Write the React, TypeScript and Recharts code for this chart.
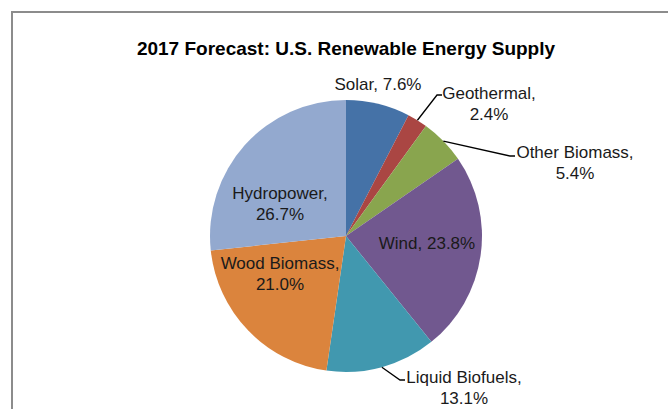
import { PieChart, Pie, Cell } from 'recharts';

const sources = ['Solar', 'Geothermal', 'Other Biomass', 'Wind', 'Liquid Biofuels', 'Wood Biomass', 'Hydropower'];
const shares = [7.6, 2.4, 5.4, 23.8, 13.1, 21.0, 26.7];
const colors = ['#4572A7', '#AA4643', '#89A54E', '#71588F', '#4198AF', '#DB843D', '#93A9CF'];

const chartData = sources.map((name, i) => ({ name, value: shares[i] }));

// where each data label sits, relative to the pie centre
type LabelSpot = { tx: number; ty: number; twoLines: boolean; bend?: [number, number]; end?: [number, number] };
const labelSpots: Record<string, LabelSpot> = {
  Solar: { tx: 32, ty: -152, twoLines: false },
  Geothermal: { tx: 143, ty: -143, twoLines: true, bend: [91, -141], end: [96, -141] },
  'Other Biomass': { tx: 229, ty: -84, twoLines: true, bend: [164, -80], end: [169, -80] },
  Wind: { tx: 81, ty: 7, twoLines: false },
  'Liquid Biofuels': { tx: 118, ty: 141, twoLines: true, bend: [54, 144], end: [59, 144] },
  'Wood Biomass': { tx: -66, ty: 27, twoLines: true },
  Hydropower: { tx: -66, ty: -43, twoLines: true },
};

const RADIAN = Math.PI / 180;
const FONT = '"Liberation Sans", Arial, sans-serif';

function renderLabel(props: any) {
  const { cx, cy, midAngle, outerRadius, name, value } = props;
  const spot = labelSpots[name];
  if (!spot) return null;
  const pct = `${value.toFixed(1)}%`;
  const x = cx + spot.tx;
  const y = cy + spot.ty;
  let line = null;
  if (spot.bend && spot.end) {
    const sx = cx + outerRadius * Math.cos(-midAngle * RADIAN);
    const sy = cy + outerRadius * Math.sin(-midAngle * RADIAN);
    line = (
      <polyline
        points={`${sx},${sy} ${cx + spot.bend[0]},${cy + spot.bend[1]} ${cx + spot.end[0]},${cy + spot.end[1]}`}
        fill="none"
        stroke="#000"
        strokeWidth={1.3}
      />
    );
  }
  return (
    <g>
      {line}
      {spot.twoLines ? (
        <text x={x} y={y} textAnchor="middle" dominantBaseline="central" fontFamily={FONT} fontSize={17} fill="#1a1a1a">
          <tspan x={x} y={y}>{name},</tspan>
          <tspan x={x} y={y + 21}>{pct}</tspan>
        </text>
      ) : (
        <text x={x} y={y} textAnchor="middle" dominantBaseline="central" fontFamily={FONT} fontSize={17} fill="#1a1a1a">
          {`${name}, ${pct}`}
        </text>
      )}
    </g>
  );
}

export default function App() {
  return (
    <div style={{ position: 'absolute', left: 0, top: 0, width: 668, height: 409, overflow: 'hidden', background: '#fff' }}>
      <div
        style={{
          position: 'absolute',
          left: 11,
          top: 11,
          width: 700,
          height: 450,
          border: '2px solid #8c8c8c',
        }}
      />
      <div
        style={{
          position: 'absolute',
          left: 0,
          top: 36,
          width: 692,
          textAlign: 'center',
          fontFamily: FONT,
          fontWeight: 'bold',
          fontSize: 19,
          lineHeight: '26px',
          color: '#000',
        }}
      >
        2017 Forecast: U.S. Renewable Energy Supply
      </div>
      <div style={{ position: 'absolute', left: 0, top: 0 }}>
        <PieChart width={668} height={409} margin={{ top: 0, right: 0, bottom: 0, left: 0 }}>
          <Pie
            data={chartData}
            dataKey="value"
            nameKey="name"
            cx={346}
            cy={236}
            outerRadius={136}
            startAngle={90}
            endAngle={-270}
            stroke="none"
            label={renderLabel}
            labelLine={false}
            isAnimationActive={false}
          >
            {chartData.map((d, i) => (
              <Cell key={d.name} fill={colors[i]} />
            ))}
          </Pie>
        </PieChart>
      </div>
    </div>
  );
}
